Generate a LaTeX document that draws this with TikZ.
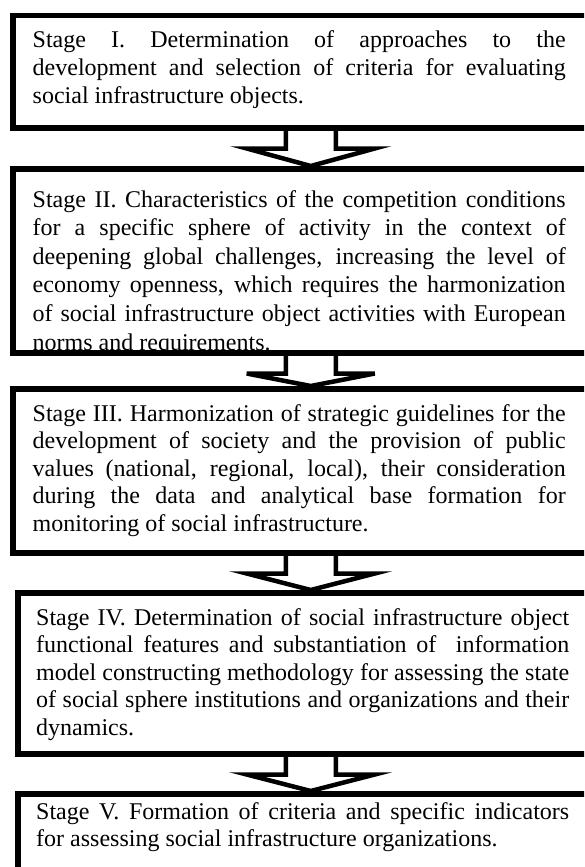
\documentclass[tikz,border=0pt]{standalone}
\usepackage{fontspec}
\setmainfont{Liberation Serif}
\usetikzlibrary{calc}
\tolerance=9999
\hyphenpenalty=10000
\tikzset{stagebox/.style = {draw, line width=5.5pt, anchor=north west, inner sep=0pt, minimum width=596pt}}
\tikzset{stagetext/.style = {anchor=base west, inner sep=0pt, text width=533pt, align=justify,
    font=\fontsize{24}{27.6}\selectfont}}
\tikzset{blockarrow/.style = {line width=4.5pt, line join=miter}}

\begin{document}
\begin{tikzpicture}[x=1pt,y=-1pt]
        \newcommand{\stemx}{25}
        \newcommand{\wingx}{64}
        \newcommand{\wingy}{18}
        \newcommand{\padx}{22.5}
        \newcommand{\pady}{35}

        \useasboundingbox (0,0) rectangle (584,867);
        \clip (0,0) rectangle (584,867);

        % Boxes
        \node[stagebox, minimum height=112pt] (s1) at (10,13) {};
        \node[stagebox, minimum height=184pt] (s2) at (10,166) {};
        \node[stagebox, minimum height=164pt] (s3) at (10,386) {};
        \node[stagebox, minimum height=161pt, minimum width=586pt] (s4) at (15,590) {};
        \node[stagebox, minimum height=120pt, minimum width=586pt] (s5) at (15,791) {};

        % Texts
        \node[stagetext] (t1) at ($(s1.north west)+(\padx,\pady)$) {Stage I. Determination of approaches to the\linebreak
            development and selection of criteria for evaluating\linebreak
            social infrastructure objects.};
        \begin{scope}
            \clip (s2.north west) rectangle (s2.south east);
            \node[stagetext, font=\fontsize{24}{28.6}\selectfont] (t2) at ($(s2.north west)+(\padx,41)$) {Stage II. Characteristics of the competition conditions\linebreak
                for a specific sphere of activity in the context of\linebreak
                deepening global challenges, increasing the level of\linebreak
                economy openness, which requires the harmonization\linebreak
                of social infrastructure object activities with European\linebreak
                norms and requirements.};
        \end{scope}
        \node[stagetext] (t3) at ($(s3.north west)+(\padx,\pady)$) {Stage III. Harmonization of strategic guidelines for the\linebreak
            development of society and the provision of public\linebreak
            values (national, regional, local), their consideration\linebreak
            during the data and analytical base formation for\linebreak
            monitoring of social infrastructure.};
        \node[stagetext] (t4) at ($(s4.north west)+(21,\pady)$) {Stage IV. Determination of social infrastructure object\linebreak
            functional features and substantiation of \ information\linebreak
            model constructing methodology for assessing the state\linebreak
            of social sphere institutions and organizations and their\linebreak
            dynamics.};
        \node[stagetext] (t5) at ($(s5.north west)+(21,28)$) {Stage V. Formation of criteria and specific indicators\linebreak
            for assessing social infrastructure organizations.};

        % Arrows
        \draw[blockarrow] ($(s1.south)+(-\stemx,0)$) -- ++(0,\wingy) -- ($(s1.south)+(-\wingx,\wingy)$)
            -- (s2.north) -- ($(s1.south)+(\wingx,\wingy)$) -- ($(s1.south)+(\stemx,\wingy)$) -- ++(0,-\wingy);
        \draw[blockarrow] ($(s2.south)+(-\stemx,0)$) -- ++(0,\wingy) -- ($(s2.south)+(-\wingx,\wingy)$)
            -- (s3.north) -- ($(s2.south)+(\wingx,\wingy)$) -- ($(s2.south)+(\stemx,\wingy)$) -- ++(0,-\wingy);
        \draw[blockarrow] ($(s3.south)+(-\stemx,0)$) -- ++(0,\wingy) -- ($(s3.south)+(-\wingx,\wingy)$)
            -- (s4.north) -- ($(s3.south)+(\wingx,\wingy)$) -- ($(s3.south)+(\stemx,\wingy)$) -- ++(0,-\wingy);
        \draw[blockarrow] ($(s4.south)+(-\stemx,0)$) -- ++(0,\wingy) -- ($(s4.south)+(-\wingx,\wingy)$)
            -- (s5.north) -- ($(s4.south)+(\wingx,\wingy)$) -- ($(s4.south)+(\stemx,\wingy)$) -- ++(0,-\wingy);
\end{tikzpicture}
\end{document}
